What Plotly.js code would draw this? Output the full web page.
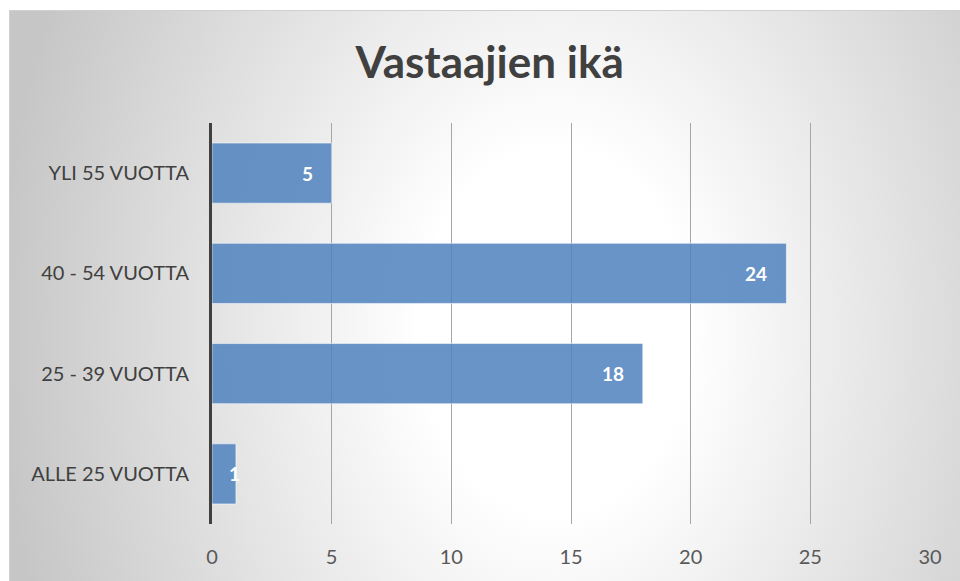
<!DOCTYPE html>
<html>
<head>
<meta charset="utf-8">
<script src="https://cdn.plot.ly/plotly-3.0.1.min.js"></script>
<style>
  html, body { margin: 0; padding: 0; background: #ffffff; }
  #wrap { position: relative; width: 960px; height: 581px; overflow: hidden; }
  #bg {
    position: absolute; left: 9px; top: 10px; width: 960px; height: 580px;
    border: 1px solid #d0d0d0; box-sizing: border-box;
    background: radial-gradient(ellipse 560px 760px at 545px 320px, #ffffff 0%, #ffffff 24%, #c6c6c6 100%);
  }
  #chart { position: absolute; left: 0; top: 0; width: 960px; height: 581px; }
</style>
</head>
<body>
<div id="wrap">
  <div id="bg"></div>
  <div id="chart"></div>
</div>
<script>
const categories = ['ALLE 25 VUOTTA', '25 - 39 VUOTTA', '40 - 54 VUOTTA', 'YLI 55 VUOTTA'];
const values = [1, 18, 24, 5];
const xTicks = [0, 5, 10, 15, 20, 25, 30];
const chartTitle = 'Vastaajien ikä';

const FONT = 'Lato, "Open Sans", sans-serif';
const plotWidthPx = 960 - 212 - 30;
const pxPerUnit = plotWidthPx / 30;

const trace = {
  type: 'bar',
  orientation: 'h',
  x: values,
  y: categories,
  width: 0.6,
  marker: {
    color: 'rgba(79,129,189,0.85)',
    line: { color: 'rgba(255,255,255,0.55)', width: 1 }
  },
  hoverinfo: 'x+y'
};

const annotations = values.map((v, i) => ({
  x: v,
  y: categories[i],
  xref: 'x',
  yref: 'y',
  text: '<b>' + v + '</b>',
  showarrow: false,
  xanchor: v * pxPerUnit > 40 ? 'right' : 'center',
  xshift: v * pxPerUnit > 40 ? -17 : -1,
  font: { family: FONT, size: 19, color: '#ffffff' }
}));

const layout = {
  width: 960,
  height: 581,
  margin: { l: 212, r: 30, t: 123, b: 57, pad: 0 },
  paper_bgcolor: 'rgba(0,0,0,0)',
  plot_bgcolor: 'rgba(0,0,0,0)',
  showlegend: false,
  title: {
    text: '<b>' + chartTitle + '</b>',
    font: { family: FONT, size: 44, color: '#404040' },
    x: 0.51, xref: 'container', xanchor: 'center',
    y: 0.893, yref: 'container', yanchor: 'middle'
  },
  xaxis: {
    range: [0, 30],
    tickvals: xTicks,
    ticktext: xTicks.map(String),
    showgrid: true,
    gridcolor: '#a6a6a6',
    gridwidth: 1,
    zeroline: false,
    showline: false,
    ticks: '',
    ticklabelstandoff: 19,
    tickfont: { family: FONT, size: 20, color: '#595959' },
    fixedrange: true
  },
  yaxis: {
    type: 'category',
    categoryorder: 'array',
    categoryarray: categories,
    range: [-0.5, 3.5],
    showgrid: false,
    zeroline: false,
    showline: true,
    linecolor: '#404040',
    linewidth: 3,
    ticks: '',
    ticklabelstandoff: 16,
    tickfont: { family: FONT, size: 20, color: '#404040' },
    fixedrange: true
  },
  annotations: annotations
};

Plotly.newPlot('chart', [trace], layout, { displayModeBar: false, staticPlot: true });
</script>
</body>
</html>
